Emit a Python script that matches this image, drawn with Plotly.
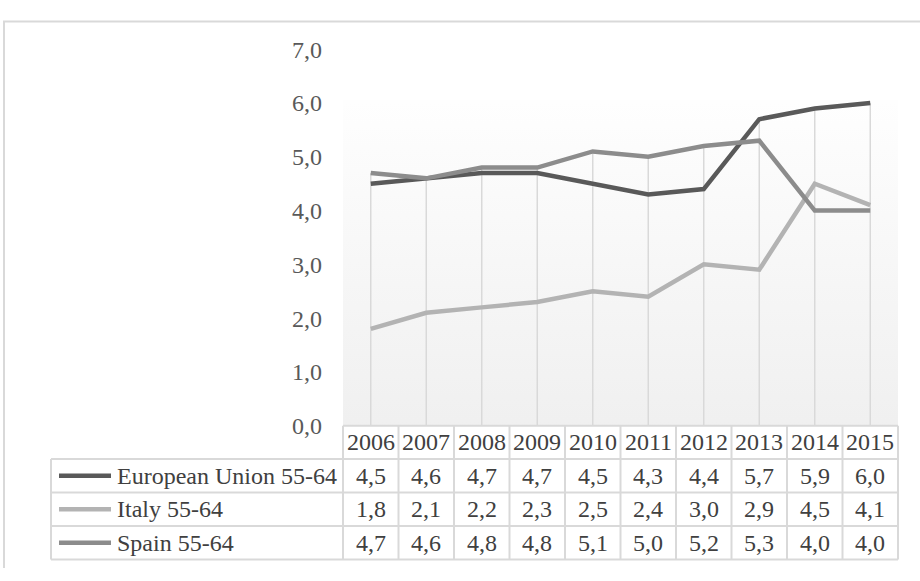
import plotly.graph_objects as go

# ---- data ----
years = [2006, 2007, 2008, 2009, 2010, 2011, 2012, 2013, 2014, 2015]
series_names = ["European Union 55-64", "Italy 55-64", "Spain 55-64"]
eu = [4.5, 4.6, 4.7, 4.7, 4.5, 4.3, 4.4, 5.7, 5.9, 6.0]
italy = [1.8, 2.1, 2.2, 2.3, 2.5, 2.4, 3.0, 2.9, 4.5, 4.1]
spain = [4.7, 4.6, 4.8, 4.8, 5.1, 5.0, 5.2, 5.3, 4.0, 4.0]
y_ticks = [0, 1, 2, 3, 4, 5, 6, 7]

series_values = [eu, italy, spain]
colors = ["#595959", "#b3b3b3", "#8c8c8c"]

W, H = 920, 581
PX_L, PX_R = 343, 898      # plot area left/right (px)
PX_Y0, PX_Y7 = 432, 38     # y=0 and y=7 (px)
GRID = "#d9d9d9"
FONT = "Liberation Serif"
FS = 24


def px(x):
    return x / W


def py(y):
    return 1 - y / H


def fmt(v):
    return f"{v:.1f}".replace(".", ",")


fig = go.Figure()

# plot-area gradient background
fig.add_trace(go.Scatter(
    x=[years[0] - 0.5, years[-1] + 0.5, years[-1] + 0.5, years[0] - 0.5, years[0] - 0.5],
    y=[0, 0, 6.06, 6.06, 0],
    mode="lines", line=dict(width=0), fill="toself",
    fillgradient=dict(type="vertical", start=6.06, stop=0,
                      colorscale=[[0, "#fefefe"], [1, "#efefef"]]),
    hoverinfo="skip", showlegend=False,
))

# drop lines (highest point down to the axis)
dx, dy = [], []
for i, yr in enumerate(years):
    top = max(s[i] for s in series_values)
    dx += [yr, yr, None]
    dy += [0, top, None]
fig.add_trace(go.Scatter(x=dx, y=dy, mode="lines",
                         line=dict(color=GRID, width=1.5),
                         hoverinfo="skip", showlegend=False))

for name, vals, c in zip(series_names, series_values, colors):
    fig.add_trace(go.Scatter(x=years, y=vals, mode="lines", name=name,
                             line=dict(color=c, width=4.5), showlegend=False))

shapes = []
annotations = []

# outer chart border
shapes.append(dict(type="path", xref="paper", yref="paper",
                   path=f"M {px(4)},{py(581)} L {px(4)},{py(9)} L {px(920)},{py(9)}",
                   line=dict(color=GRID, width=2)))

# data table grid
col_w = (PX_R - PX_L) / len(years)
row_top = [432, 467, 502, 537, 572]
LEG_L = 51
for k in range(len(years) + 1):
    x = PX_L + k * col_w
    shapes.append(dict(type="line", xref="paper", yref="paper",
                       x0=px(x), x1=px(x), y0=py(row_top[0]), y1=py(row_top[-1]),
                       line=dict(color=GRID, width=2)))
shapes.append(dict(type="line", xref="paper", yref="paper",
                   x0=px(LEG_L), x1=px(LEG_L), y0=py(row_top[1]), y1=py(row_top[-1]),
                   line=dict(color=GRID, width=2)))
shapes.append(dict(type="line", xref="paper", yref="paper",
                   x0=px(PX_L), x1=px(PX_R), y0=py(row_top[0]), y1=py(row_top[0]),
                   line=dict(color=GRID, width=2)))
for r in row_top[1:]:
    shapes.append(dict(type="line", xref="paper", yref="paper",
                       x0=px(LEG_L), x1=px(PX_R), y0=py(r), y1=py(r),
                       line=dict(color=GRID, width=2)))

# header years
hc = (row_top[0] + row_top[1]) / 2
for k, yr in enumerate(years):
    annotations.append(dict(xref="paper", yref="paper",
                            x=px(PX_L + (k + 0.5) * col_w), y=py(hc),
                            text=str(yr), showarrow=False,
                            xanchor="center", yanchor="middle",
                            font=dict(family=FONT, size=FS, color="#404040")))

# legend keys + values
for r, (name, vals, c) in enumerate(zip(series_names, series_values, colors)):
    cy = (row_top[r + 1] + row_top[r + 2]) / 2
    shapes.append(dict(type="line", xref="paper", yref="paper",
                       x0=px(59), x1=px(111), y0=py(cy), y1=py(cy),
                       line=dict(color=c, width=4.5)))
    annotations.append(dict(xref="paper", yref="paper", x=px(115), y=py(cy),
                            text=name, showarrow=False,
                            xanchor="left", yanchor="middle",
                            font=dict(family=FONT, size=FS, color="#404040")))
    for k, v in enumerate(vals):
        annotations.append(dict(xref="paper", yref="paper",
                                x=px(PX_L + (k + 0.5) * col_w), y=py(cy),
                                text=fmt(v), showarrow=False,
                                xanchor="center", yanchor="middle",
                                font=dict(family=FONT, size=FS, color="#404040")))

fig.update_layout(
    width=W, height=H,
    margin=dict(l=0, r=0, t=0, b=0),
    paper_bgcolor="white", plot_bgcolor="rgba(0,0,0,0)",
    showlegend=False,
    xaxis=dict(domain=[px(PX_L), px(PX_R)], range=[years[0] - 0.5, years[-1] + 0.5],
               showgrid=False, zeroline=False, showline=False, showticklabels=False,
               fixedrange=True),
    yaxis=dict(domain=[py(PX_Y0), py(PX_Y7)], range=[0, 7],
               tickvals=y_ticks, ticktext=[fmt(t) for t in y_ticks],
               showgrid=False, zeroline=False, showline=False,
               ticks="", ticklabelstandoff=20,
               tickfont=dict(family=FONT, size=FS, color="#595959"),
               fixedrange=True),
    shapes=shapes,
    annotations=annotations,
)

fig.write_html("out.html")
